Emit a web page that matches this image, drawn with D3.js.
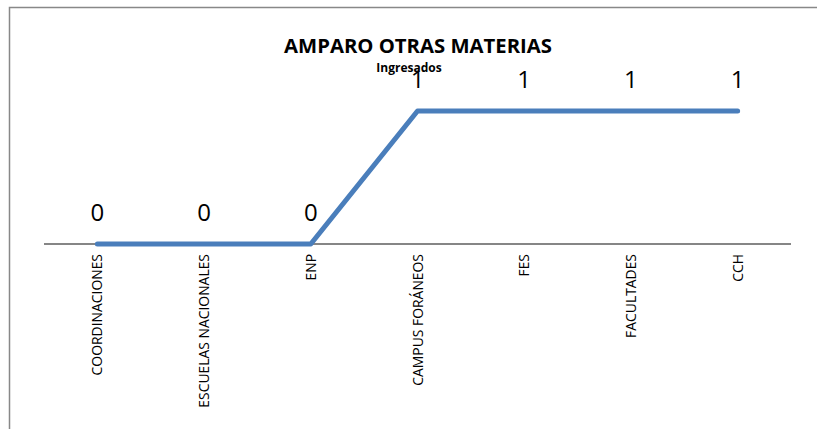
<!DOCTYPE html>
<html>
<head>
<meta charset="utf-8">
<script src="https://cdn.jsdelivr.net/npm/d3@7"></script>
<style>
  body { margin: 0; background: #fff; }
  text { font-family: "Open Sans", sans-serif; }
</style>
</head>
<body>
<svg id="chart" width="817" height="429"></svg>
<script>
// data
const categories = ["COORDINACIONES", "ESCUELAS NACIONALES", "ENP", "CAMPUS FORÁNEOS", "FES", "FACULTADES", "CCH"];
const values = [0, 0, 0, 1, 1, 1, 1];
const title = "AMPARO OTRAS MATERIAS";
const subtitle = "Ingresados";

const width = 817, height = 429;
const svg = d3.select("#chart");

// outer border (chart area frame)
svg.append("rect")
  .attr("x", 9.5).attr("y", 7.5)
  .attr("width", 820).attr("height", 440)
  .attr("fill", "none")
  .attr("stroke", "#888").attr("stroke-width", 1.5);

const left = 44, right = 791;
const xScale = d3.scaleBand()
  .domain(categories)
  .range([left, right]);

const yScale = d3.scaleLinear()
  .domain([0, 1])
  .range([244, 111]);

// x axis
const xAxis = svg.append("g")
  .attr("transform", `translate(0, ${yScale(0)})`)
  .call(d3.axisBottom(xScale).tickSize(0).tickPadding(0));
xAxis.select(".domain").attr("stroke", "#868686").attr("stroke-width", 2).attr("d", `M${left},0H${right}`);
xAxis.selectAll("text")
  .attr("transform", "rotate(-90)")
  .attr("x", -10)
  .attr("y", 0)
  .attr("dy", "0.36em")
  .attr("text-anchor", "end")
  .style("font-size", "13.9px")
  .style("font-family", "'Open Sans', sans-serif")
  .attr("fill", "#000");

// line
const data = categories.map((c, i) => ({ cat: c, value: values[i] }));
const line = d3.line()
  .x(d => xScale(d.cat) + xScale.bandwidth() / 2)
  .y(d => yScale(d.value));

svg.append("path")
  .datum(data)
  .attr("d", line)
  .attr("fill", "none")
  .attr("stroke", "#4a7ebb")
  .attr("stroke-width", 5)
  .attr("stroke-linecap", "round")
  .attr("stroke-linejoin", "round");

// data labels
svg.selectAll(".lbl")
  .data(data)
  .join("text")
  .attr("class", "lbl")
  .attr("x", d => xScale(d.cat) + xScale.bandwidth() / 2)
  .attr("y", d => yScale(d.value) - 23)
  .attr("text-anchor", "middle")
  .style("font-size", "24px")
  .text(d => d.value);

// titles
svg.append("text")
  .attr("x", 418).attr("y", 53)
  .attr("text-anchor", "middle")
  .style("font-size", "20.3px")
  .style("font-weight", "bold")
  .text(title);

svg.append("text")
  .attr("x", 409).attr("y", 72)
  .attr("text-anchor", "middle")
  .style("font-size", "12px")
  .style("font-weight", "bold")
  .text(subtitle);
</script>
</body>
</html>
